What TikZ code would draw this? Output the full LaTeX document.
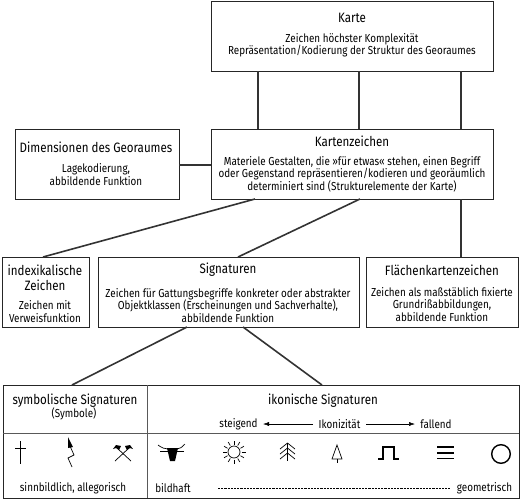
\documentclass[tikz,border=0pt]{standalone}
\usepackage{fontspec}
\setmainfont[FakeStretch=0.85]{Fira Sans}
\usetikzlibrary{arrows.meta}
\tikzset{
  boxnode/.style={draw=black!85, line width=0.8pt, inner sep=0pt},
  head/.style={font=\fontsize{13.6}{15}\selectfont, align=center},
  txt/.style={font=\fontsize{11.6}{12.4}\selectfont, align=center},
  link/.style={line width=1.6pt, draw=black!80},
  sym/.style={line width=0.7pt},
}
\begin{document}
\begin{tikzpicture}[x=1pt,y=-1pt]
  %%%%% START %%%%%
  \useasboundingbox (0,0) rectangle (520,501);

  % upper boxes
  \node[boxnode, minimum width=282pt, minimum height=70pt] (karte) at (352,36) {};
  \node[boxnode, minimum width=282pt, minimum height=70pt] (kartenz) at (352,164) {};
  \node[boxnode, minimum width=164pt, minimum height=70pt] (dim) at (97,164) {};
  \node[boxnode, minimum width=87pt, minimum height=70pt] (index) at (45.5,292) {};
  \node[boxnode, minimum width=261pt, minimum height=70pt] (sign) at (228.5,292) {};
  \node[boxnode, minimum width=152pt, minimum height=70pt] (flaeche) at (442,292) {};
  \node[boxnode, minimum width=516pt, minimum height=113pt] (table) at (261,441.5) {};

  % texts
  \node[head] (t1) at (352,18) {Karte};
  \node[txt] (t2) at (352,45.5) {Zeichen höchster Komplexität\\Repräsentation/Kodierung der Struktur des Georaumes};
  \node[head] (t3) at (352,141) {Kartenzeichen};
  \node[txt] (t4) at (352,174) {Materiele Gestalten, die »für etwas« stehen, einen Begriff\\oder Gegenstand repräsentieren/kodieren und georäumlich\\determiniert sind (Strukturelemente der Karte)};
  \node[head] (t5) at (96,147) {Dimensionen des Georaumes};
  \node[txt] (t6) at (96,174.5) {Lagekodierung,\\abbildende Funktion};
  \node[head] (t7) at (45,277.5) {indexikalische\\Zeichen};
  \node[txt] (t8) at (45,311.5) {Zeichen mit\\Verweisfunktion};
  \node[head] (t9) at (228,270) {Signaturen};
  \node[txt] (t10) at (228,305.5) {Zeichen für Gattungsbegriffe konkreter oder abstrakter\\Objektklassen (Erscheinungen und Sachverhalte),\\abbildende Funktion};
  \node[head] (t11) at (442,270) {Flächenkartenzeichen};
  \node[txt] (t12) at (442,304.5) {Zeichen als maßstäblich fixierte\\Grundrißabbildungen,\\abbildende Funktion};
  \node[head] (t13) at (75,401) {symbolische Signaturen};
  \node[txt] (t14) at (74,414) {(Symbole)};
  \node[head] (t15) at (323,401) {ikonische Signaturen};
  \node[txt] (t16) at (238.5,424.5) {steigend};
  \node[txt] (t17) at (339.5,424.5) {Ikonizität};
  \node[txt] (t18) at (436,424.5) {fallend};
  \node[txt] (t19) at (73,488) {sinnbildlich, allegorisch};
  \node[txt] (t20) at (173,488) {bildhaft};
  \node[txt] (t21) at (484.5,488) {geometrisch};

  % connectors
  \coordinate (a1) at (258,71); \coordinate (b1) at (258,129);
  \coordinate (a2) at (359,71); \coordinate (b2) at (359,129);
  \coordinate (a3) at (461,71); \coordinate (b3) at (461,129);
  \draw[link] (a1) -- (b1);
  \draw[link] (a2) -- (b2);
  \draw[link] (a3) -- (b3);
  \coordinate (c1) at (179,165); \coordinate (c2) at (211,165);
  \draw[link] (c1) -- (c2);
  \coordinate (d1) at (255,199); \coordinate (d2) at (43,257);
  \draw[link] (d1) -- (d2);
  \coordinate (e1) at (360,199); \coordinate (e2) at (238,257);
  \draw[link] (e1) -- (e2);
  \coordinate (f1) at (461,199); \coordinate (f2) at (461,257);
  \draw[link] (f1) -- (f2);
  \coordinate (g1) at (187,327); \coordinate (g2) at (72,385);
  \draw[link] (g1) -- (g2);
  \coordinate (h1) at (243,327); \coordinate (h2) at (322,385);
  \draw[link] (h1) -- (h2);

  % table rules
  \draw[line width=0.6pt, black!65] (147,385) -- (147,498);
  \draw[line width=0.6pt, black!65] (3,433) -- (519,433);

  % Ikonizitaet arrows
  \coordinate (i1) at (313,424); \coordinate (i2) at (263,424);
  \coordinate (j1) at (366,424); \coordinate (j2) at (415,424);
  \draw[line width=0.5pt, -{Latex[length=6pt,width=4pt]}] (i1) -- (i2);
  \draw[line width=0.5pt, -{Latex[length=6pt,width=4pt]}] (j1) -- (j2);

  % dashes bildhaft - geometrisch
  \draw[line width=0.6pt, dash pattern=on 2.2pt off 1pt] (218,488) -- (450,488);

  % symbols, left
  \draw[sym] (20,441) -- (20,464);
  \draw[sym] (15,448) -- (26,448);
  \fill (68,437) -- (73,447) -- (68,448) -- cycle;
  \draw[sym] (70,446) -- (74,455) -- (68,458) -- (72,467);
  \draw[sym] (115,461) -- (129,448);
  \draw[sym] (131,461) -- (117,448);
  \fill (113,449) -- (116,445) -- (121,446) -- (119,450) -- (116,448) -- cycle;
  \fill (133,449) -- (130,445) -- (125,446) -- (127,450) -- (130,448) -- cycle;

  % symbols, right
  \draw[sym] (158,445) .. controls (162,448) and (165,449) .. (168,449);
  \draw[sym] (185,444) .. controls (182,447) and (180,449) .. (177,449);
  \draw[sym] (160,451) -- (168,451);
  \draw[sym] (184,451) -- (177,451);
  \fill (167,448) -- (178,448) -- (175,461) -- (170,461) -- cycle;
  \draw[sym] (234,452) circle (6);
  \foreach \a in {0,30,...,330}
    \draw[sym] (234,452) ++(\a:7.5) -- ++(\a:4);
  \draw[sym] (280,449) -- (287.5,443) -- (295,449);
  \draw[sym] (280,454) -- (287.5,448) -- (295,454);
  \draw[sym] (280,459) -- (287.5,453) -- (295,459);
  \draw[sym] (287.5,443) -- (287.5,461);
  \draw[sym] (337,445) -- (332,459) -- (342,459) -- cycle;
  \draw[sym] (337,459) -- (337,463);
  \draw[line width=1.5pt] (378,459) -- (383,459) -- (383,447) -- (394,447) -- (394,459) -- (399,459);
  \draw[line width=1.4pt] (437,447) -- (454,447);
  \draw[line width=1.4pt] (437,453) -- (454,453);
  \draw[line width=1.4pt] (437,458.5) -- (454,458.5);
  \draw[line width=1.4pt] (501,454) circle (9.3);
  %%%%% END %%%%%
\end{tikzpicture}
\end{document}
